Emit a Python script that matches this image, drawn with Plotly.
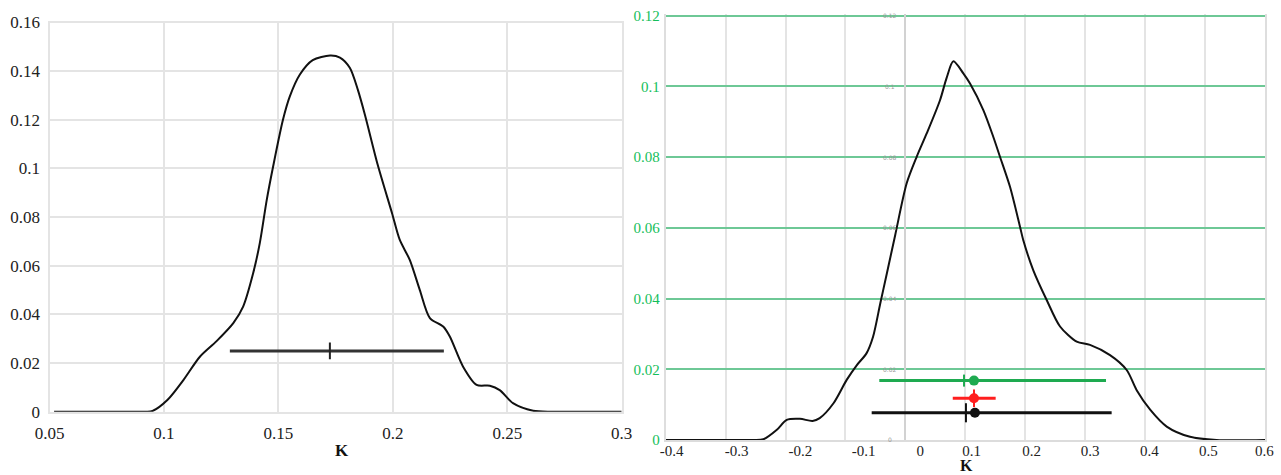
import plotly.graph_objects as go

# ---------------- data ----------------
# Left panel: density curve of K
left_k = [0.052, 0.075, 0.092, 0.095, 0.1015, 0.1085, 0.1157, 0.123, 0.1303, 0.1346,
          0.139, 0.1419, 0.1449, 0.1477, 0.152, 0.155, 0.1594, 0.165, 0.1726, 0.1769,
          0.1812, 0.1847, 0.1878, 0.1934, 0.1996, 0.203, 0.2074, 0.2118, 0.2162, 0.222, 0.2249,
          0.2307, 0.2366, 0.2424, 0.2467, 0.2525, 0.2613, 0.27, 0.3]
left_v = [0.0, 0.0, 0.0, 0.0003, 0.0048, 0.013, 0.0226, 0.029, 0.0364, 0.0432,
          0.057, 0.0694, 0.087, 0.1008, 0.12, 0.1296, 0.1386, 0.1445, 0.1464, 0.1456,
          0.1414, 0.1324, 0.1221, 0.1015, 0.0818, 0.0707, 0.0624, 0.05, 0.0385, 0.035, 0.0309,
          0.0185, 0.011, 0.0107, 0.0089, 0.0035, 0.0004, 0.0, 0.0]
left_bar = dict(y=0.025, lo=0.1288, hi=0.2223, mid=0.1725, half=0.0034)

left_xticks = [0.05, 0.1, 0.15, 0.2, 0.25, 0.3]
left_xtext = ["0.05", "0.1", "0.15", "0.2", "0.25", "0.3"]
left_yticks = [0, 0.02, 0.04, 0.06, 0.08, 0.1, 0.12, 0.14, 0.16]
left_ytext = ["0", "0.02", "0.04", "0.06", "0.08", "0.1", "0.12", "0.14", "0.16"]

# Right panel: density curve of K
right_k = [-0.4, -0.3, -0.254, -0.237, -0.215, -0.198, -0.176, -0.155, -0.143, -0.12,
           -0.098, -0.081, -0.065, -0.054, -0.042, -0.031, -0.017, 0.0021, 0.0188, 0.0355,
           0.0577, 0.0689, 0.08, 0.0966, 0.1078, 0.13, 0.1467, 0.1578, 0.1745, 0.1912,
           0.1967, 0.2134, 0.2357, 0.258, 0.2858, 0.308, 0.3414, 0.3692, 0.3859,
           0.4087, 0.436, 0.4749, 0.519, 0.6]
right_v = [0.0, 0.0, 0.0, 0.0002, 0.0028, 0.0057, 0.006, 0.0054, 0.0062, 0.0104,
           0.017, 0.0212, 0.0245, 0.0292, 0.0386, 0.0471, 0.058, 0.0726, 0.0801, 0.0867,
           0.0961, 0.1025, 0.1071, 0.1037, 0.1008, 0.0933, 0.0857, 0.0801, 0.0716, 0.0603,
           0.0565, 0.048, 0.0396, 0.0321, 0.0278, 0.0269, 0.024, 0.0198, 0.0141,
           0.0085, 0.0038, 0.0009, 0.0, 0.0]

# interval estimates
green_bar = dict(y=0.0168, lo=-0.0436, hi=0.3347, dot=0.1144, tick=0.0978, half=0.0017)
red_bar = dict(y=0.0118, lo=0.079, hi=0.1506, dot=0.1144, tick=0.1144, half=0.0025)
black_bar = dict(y=0.0077, lo=-0.0563, hi=0.3441, dot=0.116, tick=0.101, half=0.0027)

right_grid = [-0.4, -0.3, -0.2, -0.1, 0, 0.1, 0.2, 0.3, 0.4, 0.5, 0.6]
right_label_pos = [-0.390, -0.2815, -0.1754, -0.0696, 0.0248, 0.1106, 0.2107, 0.308, 0.407, 0.5054, 0.5988]
right_xtext = ["-0.4", "-0.3", "-0.2", "-0.1", "0", "0.1", "0.2", "0.3", "0.4", "0.5", "0.6"]
right_yticks = [0, 0.02, 0.04, 0.06, 0.08, 0.1, 0.12]
right_ytext = ["0", "0.02", "0.04", "0.06", "0.08", "0.1", "0.12"]
faint_x = -0.0257

# ---------------- figure ----------------
W, H = 1281, 475
SERIF = "Liberation Serif"
GRID = "#e4e4e4"
GREEN_GRID = "rgb(110,200,150)"
GREEN_TXT = "rgb(20,190,90)"

# right panel vertical scale: 0 at y=440 px, 0.12 at y=15.7 px; small headroom above 0.12
Y2_TOP = 0.1206
px_per_unit = (440 - 15.7) / 0.12
y2_top_px = 440 - Y2_TOP * px_per_unit

fig = go.Figure()

fig.add_trace(go.Scatter(x=left_k, y=left_v, mode="lines",
                         line=dict(color="#111", width=2, shape="spline", smoothing=0.8),
                         xaxis="x", yaxis="y", hoverinfo="skip"))
fig.add_trace(go.Scatter(x=[left_bar["lo"], left_bar["hi"]], y=[left_bar["y"]] * 2, mode="lines",
                         line=dict(color="#333", width=3), xaxis="x", yaxis="y"))
fig.add_trace(go.Scatter(x=[left_bar["mid"]] * 2,
                         y=[left_bar["y"] - left_bar["half"], left_bar["y"] + left_bar["half"]],
                         mode="lines", line=dict(color="#222", width=2), xaxis="x", yaxis="y"))

fig.add_trace(go.Scatter(x=right_k, y=right_v, mode="lines",
                         line=dict(color="#111", width=2, shape="spline", smoothing=0.8),
                         xaxis="x2", yaxis="y2", hoverinfo="skip"))

for bar, col in [(green_bar, "rgb(30,170,80)"), (red_bar, "rgb(255,30,30)"), (black_bar, "#111")]:
    fig.add_trace(go.Scatter(x=[bar["lo"], bar["hi"]], y=[bar["y"]] * 2, mode="lines",
                             line=dict(color=col, width=3), xaxis="x2", yaxis="y2"))
    fig.add_trace(go.Scatter(x=[bar["tick"]] * 2, y=[bar["y"] - bar["half"], bar["y"] + bar["half"]],
                             mode="lines", line=dict(color=col, width=2), xaxis="x2", yaxis="y2"))
    fig.add_trace(go.Scatter(x=[bar["dot"]], y=[bar["y"]], mode="markers",
                             marker=dict(color=col, size=10), xaxis="x2", yaxis="y2"))

# invisible trace so the label axis (x3) is drawn
fig.add_trace(go.Scatter(x=[right_grid[0]], y=[0], mode="markers", marker=dict(opacity=0),
                         xaxis="x3", yaxis="y2", hoverinfo="skip"))

for yv, t in zip(right_yticks, right_ytext):
    fig.add_annotation(x=faint_x, y=yv, xref="x2", yref="y2", text=t, showarrow=False,
                       font=dict(family="DejaVu Sans", size=6, color="#999"), yanchor="middle")

fig.add_annotation(x=341.7 / W, y=1 - 450 / H, xref="paper", yref="paper", text="<b>K</b>", showarrow=False,
                   font=dict(family=SERIF, size=17, color="#111"), xanchor="center", yanchor="middle")
fig.add_annotation(x=966.7 / W, y=0, xref="paper", yref="paper", text="<b>K</b>", showarrow=False,
                   font=dict(family=SERIF, size=16, color="#111"), xanchor="center", yanchor="bottom",
                   borderpad=0)

fig.update_layout(
    width=W, height=H, margin=dict(l=0, r=0, t=0, b=0, autoexpand=False),
    paper_bgcolor="white", plot_bgcolor="white", showlegend=False,
    font=dict(family=SERIF),
    xaxis=dict(domain=[49.5 / W, 621.7 / W], range=[0.05, 0.3], tickmode="array", tickvals=left_xticks,
               ticktext=left_xtext, showgrid=True, gridcolor=GRID, gridwidth=2, zeroline=False,
               showline=True, linecolor=GRID, linewidth=2, mirror=True, ticks="", anchor="y",
               automargin=False, tickfont=dict(family=SERIF, size=17, color="#222"), ticklabelstandoff=5),
    yaxis=dict(domain=[1 - 411.7 / H, 1 - 22.5 / H], range=[0, 0.16], tickmode="array", tickvals=left_yticks,
               ticktext=left_ytext, showgrid=True, gridcolor=GRID, gridwidth=2, zeroline=False,
               showline=True, linecolor=GRID, linewidth=2, mirror=True, ticks="", anchor="x",
               automargin=False, tickfont=dict(family=SERIF, size=17, color="#222"), ticklabelstandoff=4),
    xaxis2=dict(domain=[665.7 / W, 1265 / W], range=[-0.4, 0.6], tickmode="array", tickvals=right_grid,
                showticklabels=False, showgrid=True, gridcolor=GRID, gridwidth=2, zeroline=True,
                zerolinecolor="#d2d2d2", zerolinewidth=2, showline=True, linecolor="#dcdcdc", linewidth=2,
                ticks="", anchor="y2", automargin=False),
    xaxis3=dict(domain=[665.7 / W, 1265 / W], range=[-0.4, 0.6], overlaying="x2", anchor="y2", side="bottom",
                tickmode="array", tickvals=right_label_pos, ticktext=right_xtext, showgrid=False,
                zeroline=False, showline=False, ticks="", ticklabelstandoff=0, automargin=False,
                tickfont=dict(family=SERIF, size=15, color="#222")),
    yaxis2=dict(domain=[1 - 440 / H, 1 - y2_top_px / H], range=[0, Y2_TOP], tickmode="array",
                tickvals=right_yticks, ticktext=right_ytext, showgrid=True, gridcolor=GREEN_GRID, gridwidth=2,
                zeroline=False, showline=True, mirror=True, linecolor="#dedede", linewidth=2, ticks="",
                anchor="x2", ticklabelstandoff=1, automargin=False,
                tickfont=dict(family=SERIF, size=15, color=GREEN_TXT)),
)

fig.write_html("out.html")
